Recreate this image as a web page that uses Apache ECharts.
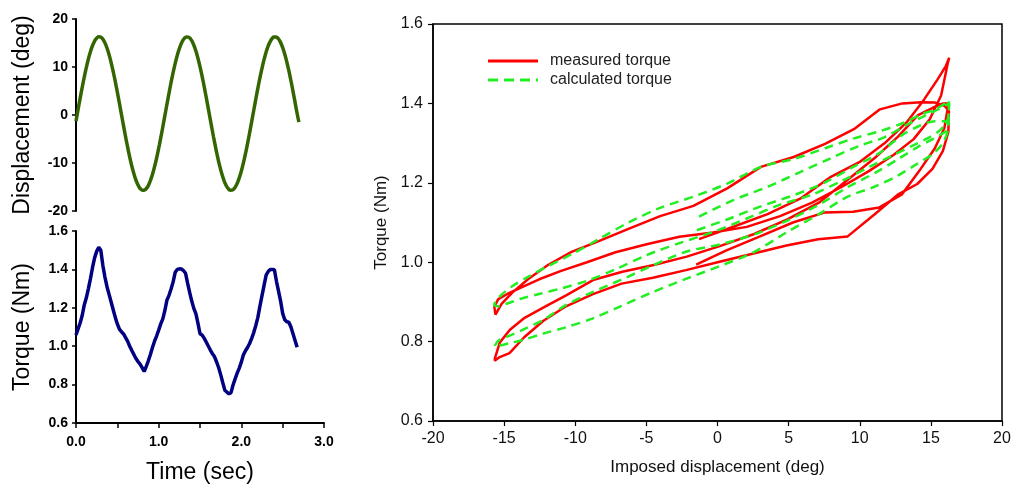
<!DOCTYPE html>
<html><head><meta charset="utf-8">
<script src="https://cdn.jsdelivr.net/npm/echarts@6/dist/echarts.min.js"></script>
<style>html,body{margin:0;padding:0;background:#fff}#c{width:1014px;height:486px}</style>
</head><body><div id="c"></div>
<script>
// sample times (s)
const time = [0,0.025,0.05,0.075,0.1,0.125,0.15,0.175,0.2,0.225,0.25,0.275,0.3,0.325,0.35,0.375,0.4,0.425,0.45,0.475,0.5,0.525,0.55,0.575,0.6,0.625,0.65,0.675,0.7,0.725,0.75,0.775,0.8,0.825,0.85,0.875,0.9,0.925,0.95,0.975,1.0,1.025,1.05,1.075,1.1,1.125,1.15,1.175,1.2,1.225,1.25,1.275,1.3,1.325,1.35,1.375,1.4,1.425,1.45,1.475,1.5,1.525,1.55,1.575,1.6,1.625,1.65,1.675,1.7,1.725,1.75,1.775,1.8,1.825,1.85,1.875,1.9,1.925,1.95,1.975,2.0,2.025,2.05,2.075,2.1,2.125,2.15,2.175,2.2,2.225,2.25,2.275,2.3,2.325,2.35,2.375,2.4,2.425,2.45,2.475,2.5,2.525,2.55,2.575,2.6,2.625,2.65,2.675];
// imposed displacement (deg)
const displacement = [-1.3,1.16,3.52,5.81,7.97,9.97,11.76,13.29,14.53,15.46,
16.05,16.29,16.18,15.72,14.92,13.79,12.37,10.67,8.75,6.65,
4.40,2.06,-0.32,-2.68,-4.98,-7.17,-9.18,-10.99,-12.54,-13.82,
-14.78,-15.41,-15.69,-15.61,-15.18,-14.41,-13.32,-11.92,-10.26,-8.35,
-6.26,-4.03,-1.69,0.68,3.05,5.36,7.56,9.59,11.42,13.00,
14.31,15.30,15.96,16.27,16.23,15.84,15.11,14.04,12.67,11.03,
9.15,7.08,4.85,2.53,0.15,-2.22,-4.54,-6.74,-8.80,-10.65,
-12.26,-13.59,-14.62,-15.31,-15.66,-15.65,-15.30,-14.59,-13.56,-12.22,
-10.61,-8.75,-6.69,-4.48,-2.16,0.21,2.58,4.91,7.13,9.20,
11.07,12.71,14.07,15.13,15.86,16.24,16.27,15.95,15.28,14.28,
12.97,11.38,9.54,7.50,5.30,2.99,0.63,-1.5];
// measured torque (Nm)
const measuredTorque = [1.058,1.09,1.121,1.16,1.215,1.252,1.30,1.352,1.41,1.46,
1.494,1.515,1.50,1.42,1.36,1.31,1.27,1.23,1.19,1.15,
1.116,1.089,1.075,1.064,1.045,1.025,1.0,0.978,0.957,0.936,
0.92,0.907,0.888,0.868,0.895,0.924,0.957,0.993,1.026,1.053,
1.084,1.116,1.142,1.186,1.24,1.265,1.298,1.335,1.385,1.40,
1.403,1.402,1.394,1.38,1.328,1.28,1.235,1.197,1.17,1.12,
1.065,1.058,1.042,1.022,1.001,0.98,0.961,0.946,0.919,0.889,
0.852,0.811,0.771,0.761,0.752,0.758,0.798,0.83,0.86,0.886,
0.917,0.955,0.976,0.993,1.014,1.041,1.071,1.108,1.15,1.209,
1.263,1.317,1.37,1.389,1.40,1.40,1.398,1.338,1.287,1.235,
1.171,1.138,1.127,1.125,1.10,1.065,1.03,0.994];
// calculated torque (Nm)
const calculatedTorque = [1.115,1.157,1.19,1.227,1.262,1.293,1.315,1.346,1.368,1.384,1.396,1.40,
1.36,1.335,1.315,1.295,1.27,1.24,1.205,1.17,1.145,1.11,1.076,1.048,1.018,0.982,0.953,0.934,0.92,0.908,0.896,0.889,0.892,
0.90,0.918,0.94,0.963,0.99,1.02,1.058,1.10,1.137,1.165,1.198,1.24,1.26,1.287,1.312,1.33,1.35,1.372,1.385,1.399,1.408,
1.34,1.30,1.272,1.248,1.218,1.19,1.165,1.12,1.075,1.025,0.99,0.958,0.925,0.89,0.858,0.836,0.82,0.805,0.796,0.79,0.786,
0.79,0.805,0.815,0.832,0.855,0.893,0.925,0.957,0.993,1.027,1.045,1.07,1.105,1.145,1.19,1.225,1.26,1.29,1.31,1.325,1.335,1.34,
1.355,1.355,1.345,1.32,1.275,1.24,1.20,1.168,1.14,1.107,1.08];

const pair = (a,b) => a.map((v,i)=>[v,b[i]]);
const F = 'Liberation Sans, Arial, sans-serif';
const chart = echarts.init(document.getElementById('c'));
const leftY = (min,max,iv,fmt,name) => ({
  type:'value', min, max, interval:iv,
  axisLine:{show:true, onZero:false, lineStyle:{color:'#000', width:2}},
  axisTick:{show:true, length:4, lineStyle:{color:'#000', width:1.5}},
  splitLine:{show:false},
  axisLabel:{color:'#000', fontWeight:'bold', fontSize:14, fontFamily:F, margin:8, formatter:fmt},
  name, nameLocation:'middle', nameGap:42, nameTextStyle:{color:'#000', fontSize:23, fontFamily:F}
});
chart.setOption({
  animation:false,
  grid:[
    {left:76, top:19, width:250, height:192},
    {left:76, top:231, width:248, height:192},
    {left:433, top:24, width:569, height:397, show:true, borderColor:'#000', borderWidth:1.5}
  ],
  graphic:[
    {type:'line', shape:{x1:488, y1:61, x2:538, y2:61}, style:{stroke:'#ff0000', lineWidth:3}},
    {type:'text', left:550, top:53, style:{text:'measured torque', fontSize:16, fontFamily:F, fill:'#222'}},
    {type:'line', shape:{x1:488, y1:80, x2:538, y2:80}, style:{stroke:'#22ee22', lineWidth:3, lineDash:[10,6]}},
    {type:'text', left:550, top:72, style:{text:'calculated torque', fontSize:16, fontFamily:F, fill:'#222'}}
  ],
  xAxis:[
    {gridIndex:0, type:'value', min:0, max:3, show:false},
    {gridIndex:1, type:'value', min:0, max:3, interval:1,
     axisLine:{onZero:false, lineStyle:{color:'#000', width:2}},
     axisTick:{length:5, lineStyle:{color:'#000', width:1.5}},
     minorTick:{show:true, splitNumber:2, length:5, lineStyle:{color:'#000', width:1.5}},
     splitLine:{show:false},
     axisLabel:{color:'#000', fontWeight:'bold', fontSize:14, fontFamily:F, margin:12, formatter:v=>v.toFixed(1)},
     name:'Time (sec)', nameLocation:'middle', nameGap:38, nameTextStyle:{color:'#000', fontSize:23, fontFamily:F}},
    {gridIndex:2, type:'value', min:-20, max:20, interval:5,
     axisLine:{onZero:false, lineStyle:{color:'#000', width:1.5}},
     axisTick:{length:5, lineStyle:{color:'#000', width:1.2}},
     splitLine:{show:false},
     axisLabel:{color:'#111', fontSize:16, fontFamily:F, margin:10},
     name:'Imposed displacement (deg)', nameLocation:'middle', nameGap:38, nameTextStyle:{color:'#111', fontSize:17, fontFamily:F}}
  ],
  yAxis:[
    Object.assign(leftY(-20,20,10,v=>String(v),'Displacement (deg)'),{gridIndex:0}),
    Object.assign(leftY(0.6,1.6,0.2,v=>v.toFixed(1),'Torque (Nm)'),{gridIndex:1}),
    {gridIndex:2, type:'value', min:0.6, max:1.6, interval:0.2,
     axisLine:{onZero:false, lineStyle:{color:'#000', width:1.5}},
     axisTick:{length:5, lineStyle:{color:'#000', width:1.2}},
     splitLine:{show:false},
     axisLabel:{color:'#111', fontSize:16, fontFamily:F, margin:10, formatter:v=>v.toFixed(1)},
     name:'Torque (Nm)', nameLocation:'middle', nameGap:36, nameTextStyle:{color:'#111', fontSize:17, fontFamily:F}}
  ],
  series:[
    {type:'line', xAxisIndex:0, yAxisIndex:0, data:pair(time,displacement), smooth:true, symbol:'none',
     lineStyle:{color:'#336600', width:3.5}},
    {type:'line', xAxisIndex:1, yAxisIndex:1, data:pair(time,measuredTorque), symbol:'none',
     lineStyle:{color:'#000080', width:3.5}},
    {name:'measured torque', type:'line', xAxisIndex:2, yAxisIndex:2, data:pair(displacement,measuredTorque), symbol:'none',
     itemStyle:{color:'#ff0000'}, lineStyle:{color:'#ff0000', width:2.5}},
    {name:'calculated torque', type:'line', xAxisIndex:2, yAxisIndex:2, data:pair(displacement,calculatedTorque), symbol:'none', smooth:0.3,
     itemStyle:{color:'#22ee22'}, lineStyle:{color:'#22ee22', width:2.5, type:[9,6]}}
  ]
});
</script></body></html>
